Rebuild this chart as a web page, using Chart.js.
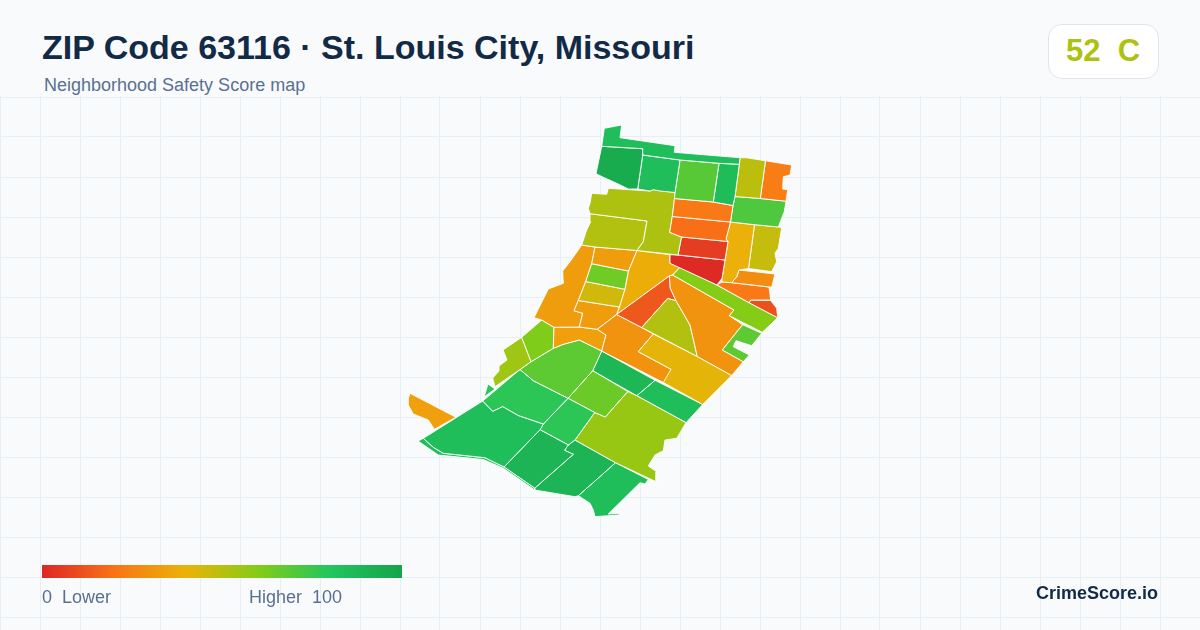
<!DOCTYPE html>
<html>
<head>
<meta charset="utf-8">
<title>ZIP Code 63116</title>
<script src="https://cdn.jsdelivr.net/npm/chart.js@4"></script>
<style>
  html, body { margin: 0; padding: 0; background: #f8fafc; }
  body { position: relative; width: 1200px; height: 630px; overflow: hidden; font-family: "Liberation Sans", Arial, sans-serif; }
  #wrap { position: absolute; left: 0; top: 96px; width: 1200px; height: 534px; }
  .txt { position: absolute; white-space: pre; line-height: 1; }
  #title { left: 42px; top: 30px; font-size: 34px; font-weight: bold; color: #132a46; }
  #sub { left: 44px; top: 76px; font-size: 18px; color: #5a7091; }
  #badge { position: absolute; left: 1048px; top: 24px; width: 109px; height: 53px; background: #fff; border: 1px solid #dfe6ee; border-radius: 14px; }
  #grade { left: 1066px; top: 35px; font-size: 31px; font-weight: bold; }
  #bar { position: absolute; left: 42px; top: 565px; width: 360px; height: 13px; }
  #lo { left: 42px; top: 588px; font-size: 18px; color: #5a7091; }
  #hi { left: 249px; top: 588px; font-size: 18px; color: #5a7091; }
  #brand { left: 1036px; top: 584px; font-size: 18px; font-weight: bold; color: #132a46; }
</style>
</head>
<body>
<div id="wrap"><canvas id="map" width="1200" height="534"></canvas></div>
<div class="txt" id="title">ZIP Code 63116 · St. Louis City, Missouri</div>
<div class="txt" id="sub">Neighborhood Safety Score map</div>
<div id="badge"></div>
<div class="txt" id="grade"></div>
<div id="bar"></div>
<div class="txt" id="lo">0  Lower</div>
<div class="txt" id="hi">Higher  100</div>
<div class="txt" id="brand">CrimeScore.io</div>
<script>
// zip level score
var zipScore = 52;
var zipGrade = 'C';

// colour ramp of the score
var rampStops = [0, 20, 40, 60, 80, 100];
var rampColors = [[220, 38, 38], [249, 115, 22], [234, 179, 8], [132, 204, 22], [34, 197, 94], [22, 163, 74]];

// one score per block group, same order as blockShapes
var blockScores = [
  84, 95, 84, 69, 85, 49, 23, 22, 19, 71,
  52, 51, 6, 1, 39, 47, 28, 22, 11, 60,
  68, 30, 51, 13, 41, 30, 38, 33, 64, 45,
  33, 33, 34, 61, 55, 68, 78, 78, 84, 84,
  90, 78, 65, 56, 90, 84, 88, 84, 34
];

// block group outlines, map units
var blockShapes = [
  [[604.3,128.3],[621.7,125],[620,137.7],[675,145.7],[674.3,152.3],[740,157.7],[739.3,164.3],[719,163.3],[680,160],[642.7,155],[642.7,148.7],[601.7,146.3]],
  [[601.7,146.3],[642.7,148.7],[642.7,155],[637.7,189],[628.3,189],[616.7,183.3],[603.3,177.3],[596,173.7]],
  [[642.7,155],[680,160],[675,192.5],[660,191],[653.3,189.7],[650,191],[637.7,189]],
  [[680,160],[719,163.3],[713.3,202],[674.5,198.5],[675,192.5]],
  [[719,163.3],[739.3,164.3],[735,196.5],[733,205.5],[713.3,202]],
  [[740,157.7],[746.7,157.7],[765.5,160.8],[760.3,198.5],[735,196.5],[739.3,164.3]],
  [[765.5,160.8],[791.7,165],[790,175],[783.3,176.7],[782.7,189],[787.7,189.7],[786,201.2],[760.3,198.5]],
  [[674.5,198.5],[713.3,202],[733,205.5],[730.5,222],[672.3,216.5]],
  [[672.3,216.5],[730.5,222],[726,239],[728,241.5],[681.5,237],[669.7,232.3]],
  [[735,196.5],[760.3,198.5],[786,201.2],[784.3,211.7],[778.3,227],[754.5,224.7],[730.5,222],[733,205.5]],
  [[591.7,193.3],[606.7,194.3],[608.3,188.3],[650,191],[653.3,189.7],[675,192.5],[674.5,198.5],[672.3,216.5],[669.7,232.3],[681.5,237],[678,255],[637,250.5],[643.3,241.7],[647,221],[590,213.7],[588.3,208.3],[590,203.3]],
  [[590,213.7],[647,221],[643.3,241.7],[637,250.5],[595,247],[581.7,245],[586.7,230],[590.7,221.7]],
  [[681.5,237],[728,241.5],[725,260],[678,255]],
  [[670,254.7],[678,255],[725,260],[722,278.3],[717,285],[670,263.3]],
  [[730.5,222],[754.5,224.7],[748.5,268.5],[739,270],[736.7,276.7],[731.7,282.7],[722,282],[722,278.3],[725,260],[728,241.5],[726,239]],
  [[754.5,224.7],[778.3,227],[781.7,227.7],[778.3,248.3],[775,253.3],[776.7,261.7],[771.7,271.7],[748.5,268.5]],
  [[739,270],[775,274],[771.7,287.2],[731.7,282.7],[736.7,276.7]],
  [[717,285],[722,282],[731.7,282.7],[769,287],[770.7,300],[750.7,300],[749,302.7]],
  [[750.7,300],[770.7,300.5],[776.7,308.3],[777.7,317.7],[749,302.7]],
  [[672.7,275],[680,267.3],[717,285],[749,302.7],[777.7,317.7],[762.3,332.3],[729.3,315.7],[734,310]],
  [[742.7,324.7],[761.7,333.3],[751.7,345.7],[736,340.7],[733.3,346.7],[749.3,355],[743.3,361.7],[722.3,350]],
  [[672.7,275],[734,310],[729.3,315.7],[742.7,324.7],[722.3,350],[743.3,361.7],[731.7,375.5],[697.3,356.5],[690,325],[676,300.7],[670.3,288.3],[669.3,276]],
  [[667.7,298.5],[676,300.7],[690,325],[697.3,356.5],[641.7,327.5]],
  [[669.3,276],[670.3,288.3],[676,300.7],[667.7,298.5],[641.7,327.5],[616.7,314.5]],
  [[653.3,334],[697.3,356.5],[731.7,375.5],[702.7,404.5],[663.3,382.5],[671,369.3],[638.3,351.7]],
  [[616.7,314.5],[641.7,327.5],[653.3,334],[638.3,351.7],[671,369.3],[668.3,378.3],[663.3,382.5],[601.7,351],[606,335],[597.3,329.3]],
  [[637,250.5],[670,254.7],[670,263.3],[680,267.3],[672.7,275],[669.3,276],[616.7,314.5],[619.5,307],[625,289.3],[628.5,271]],
  [[595,247],[637,250.5],[628.5,271],[591.7,263.7]],
  [[591.7,263.7],[628.5,271],[625,289.3],[585.7,281.5]],
  [[585.7,281.5],[625,289.3],[619.5,307],[578.3,300.5]],
  [[578.3,300.5],[619.5,307],[616.7,314.5],[597.3,329.3],[579.3,327],[582.7,313.3],[574,310.7]],
  [[581.7,245],[595,247],[591.7,263.7],[585.7,281.5],[578.3,300.5],[574,310.7],[582.7,313.3],[579.3,327],[554,327.3],[541.7,320],[534,317.7],[548.3,289],[563.3,283.3],[562.7,271],[570,261.7]],
  [[554,327.3],[579.3,327],[597.3,329.3],[606,335],[601.7,351],[579.3,340],[563.3,344.3],[553.3,348.3]],
  [[541.7,320],[554,327.3],[553.3,348.3],[531,361.7],[521.7,337.3]],
  [[521.7,337.3],[531,361.7],[520,369.5],[495,386.7],[492.7,378],[499,371],[499,366],[507,360],[503,350]],
  [[579.3,340],[601.7,351],[592.7,370.7],[568,398.3],[533.3,380.7],[520,369.5],[531,361.7],[553.3,348.3],[563.3,344.3]],
  [[520,369.5],[533.3,380.7],[568,398.3],[543.3,424],[518.3,415.5],[502.7,406.5],[492.7,411.3],[482.7,401]],
  [[488,384],[495,389],[484,397]],
  [[482.7,401],[492.7,411.3],[502.7,406.5],[518.3,415.5],[543.3,424],[540,429.7],[504,467],[485,457.7],[443.3,453.3],[433.3,447.3],[423.3,438.3]],
  [[423.3,438.3],[433.3,447.3],[443.3,453.3],[485,457.7],[504,467],[534.7,488.2],[534.7,490],[503.3,468.3],[483.3,459.5],[438.3,455],[418,441]],
  [[540,429.7],[568.3,445],[564.5,450.3],[573.3,454.3],[534.7,488.2],[504,467]],
  [[568,398.3],[594.7,412.5],[575,440],[568.3,445],[540,429.7],[543.3,424]],
  [[568,398.3],[592.7,370.7],[627.8,391.5],[617.3,403.3],[605.3,417],[594.7,412.5]],
  [[627.8,391.5],[636.7,395.7],[686,422.7],[676.7,438.3],[665,440],[663.3,450.7],[655,455],[648.3,466],[656.7,471.7],[656,481.7],[615.5,462.7],[575,440],[594.7,412.5],[605.3,417],[617.3,403.3]],
  [[575,440],[615.5,462.7],[578.3,495.7],[575,496.7],[534.7,490],[534.7,488.2],[573.3,454.3],[564.5,450.3],[568.3,445]],
  [[615.5,462.7],[648.3,479.5],[645,484],[640,482.7],[608.3,514],[621.7,513.3],[618.3,515],[595,516.7],[593.3,510],[590,503.3],[578.3,495.7]],
  [[601.7,351],[655,380.3],[636.7,395.7],[592.7,370.7]],
  [[655,380.3],[702.7,404.5],[686,422.7],[636.7,395.7]],
  [[410,393.3],[456,417.3],[434.3,429.3],[428.3,420],[413.3,414],[408.3,405],[408.3,398.3]]
];

// background grid
var gridStepX = 40;
var gridStartY = 97;
var gridStepY = 40;

function scoreColor(score) {
  for (var i = 1; i < rampStops.length; i++) {
    if (score <= rampStops[i]) {
      var t = (score - rampStops[i - 1]) / (rampStops[i] - rampStops[i - 1]);
      var a = rampColors[i - 1], b = rampColors[i];
      return 'rgb(' + Math.round(a[0] + (b[0] - a[0]) * t) + ',' +
        Math.round(a[1] + (b[1] - a[1]) * t) + ',' +
        Math.round(a[2] + (b[2] - a[2]) * t) + ')';
    }
  }
  return 'rgb(' + rampColors[rampColors.length - 1].join(',') + ')';
}

// badge and legend bar
var grade = document.getElementById('grade');
grade.textContent = zipScore + '  ' + zipGrade;
grade.style.color = scoreColor(zipScore);
document.getElementById('bar').style.background = 'linear-gradient(to right, ' + rampStops.map(function(s) {
  return scoreColor(s) + ' ' + s + '%';
}).join(', ') + ')';

// one closed line per block group
var datasets = blockShapes.map(function(shape, i) {
  var pts = shape.concat([shape[0]]).map(function(p) { return { x: p[0], y: p[1] }; });
  return {
    data: pts,
    showLine: true,
    fill: 'shape',
    tension: 0,
    pointRadius: 0,
    backgroundColor: scoreColor(blockScores[i]),
    borderColor: 'rgba(255,255,255,0.9)',
    borderWidth: 1
  };
});

var ctx = document.getElementById('map').getContext('2d');
var map = new Chart(ctx, {
  type: 'scatter',
  data: { datasets: datasets },
  options: {
    responsive: false,
    animation: false,
    devicePixelRatio: 1,
    layout: { padding: 0 },
    plugins: { legend: { display: false }, tooltip: { enabled: false } },
    scales: {
      x: {
        type: 'linear', min: 0, max: 1200,
        border: { display: false },
        grid: { color: '#e8eff4', lineWidth: 1, drawTicks: false },
        ticks: { display: false, stepSize: gridStepX }
      },
      y: {
        type: 'linear', reverse: true, min: 96, max: 630,
        border: { display: false },
        grid: { color: '#e8eff4', lineWidth: 1, drawTicks: false },
        ticks: { display: false },
        afterBuildTicks: function(axis) {
          var ticks = [];
          for (var v = gridStartY; v <= 630; v += gridStepY) ticks.push({ value: v });
          axis.ticks = ticks;
        }
      }
    }
  }
});
</script>
</body>
</html>
